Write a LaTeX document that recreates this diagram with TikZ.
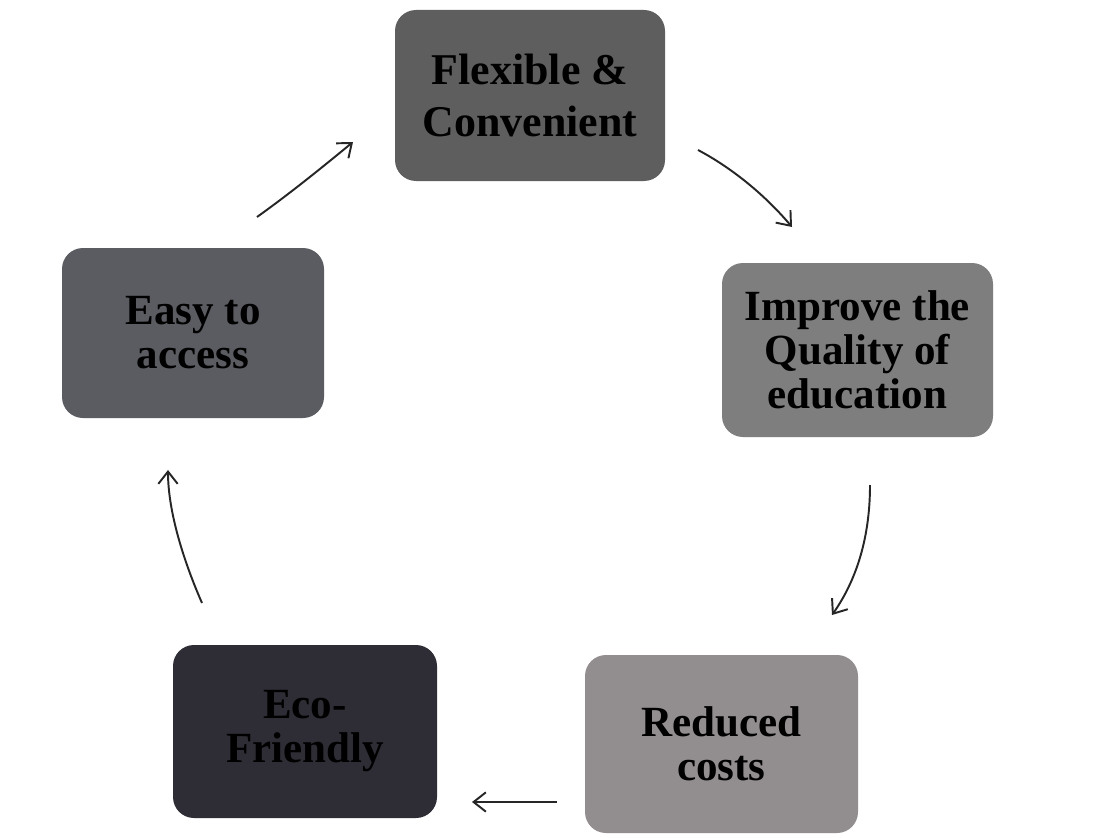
\documentclass[tikz,border=0pt]{standalone}
\usepackage{fontspec}
\setmainfont{Liberation Serif}
\usetikzlibrary{arrows.meta}
\definecolor{cflex}{HTML}{5E5E5E}
\definecolor{ceasy}{HTML}{5A5C62}
\definecolor{cimp}{HTML}{7E7E7E}
\definecolor{ceco}{HTML}{2E2D35}
\definecolor{cred}{HTML}{928D8F}
\tikzset{
  card/.style={rounded corners=0.42cm, inner sep=0pt, align=center,
    font=\bfseries\fontsize{24.5}{25}\selectfont, text=black},
  arr/.style={line width=1.1pt, draw=black!85,
    -{Straight Barb[length=7pt,width=11pt,line width=1.1pt]}}
}
\begin{document}
\begin{tikzpicture}[x=0.02cm,y=-0.02cm]
\useasboundingbox[fill=white] (0,0) rectangle (1112,838);
% cards
\node[card, fill=cflex, minimum width=270*0.02cm, minimum height=171*0.02cm,
  font=\bfseries\fontsize{25}{30}\selectfont] (flex) at (530,95.5) {Flexible \&\\Convenient};
\node[card, fill=ceasy, minimum width=262*0.02cm, minimum height=170*0.02cm] (easy) at (193,333) {Easy to\\access};
\node[card, fill=cimp, minimum width=271*0.02cm, minimum height=174*0.02cm] (imp) at (857.5,350) {Improve the\\Quality of\\education};
\node[card, fill=ceco, minimum width=264*0.02cm, minimum height=173*0.02cm] (eco) at (305,731.5) {Eco-\\Friendly};
\node[card, fill=cred, minimum width=273*0.02cm, minimum height=178*0.02cm] (red) at (721.5,744) {Reduced\\costs};
% arrow end points
\coordinate (a1s) at (257,217); \coordinate (a1e) at (353,142);
\coordinate (a2s) at (698,150); \coordinate (a2e) at (792,227);
\coordinate (a3s) at (870,485); \coordinate (a3e) at (832,615);
\coordinate (a4s) at (557,802); \coordinate (a4e) at (472,802);
\coordinate (a5s) at (202,603); \coordinate (a5e) at (168,470);
% connectors
\draw[arr] (a1s) .. controls (292,192) and (325,165) .. (a1e);
\draw[arr] (a2s) .. controls (732,168) and (765,195) .. (a2e);
\draw[arr] (a3s) .. controls (870,530) and (860,575) .. (a3e);
\draw[arr] (a4s) -- (a4e);
\draw[arr] (a5s) .. controls (184,562) and (168,512) .. (a5e);
\end{tikzpicture}
\end{document}
